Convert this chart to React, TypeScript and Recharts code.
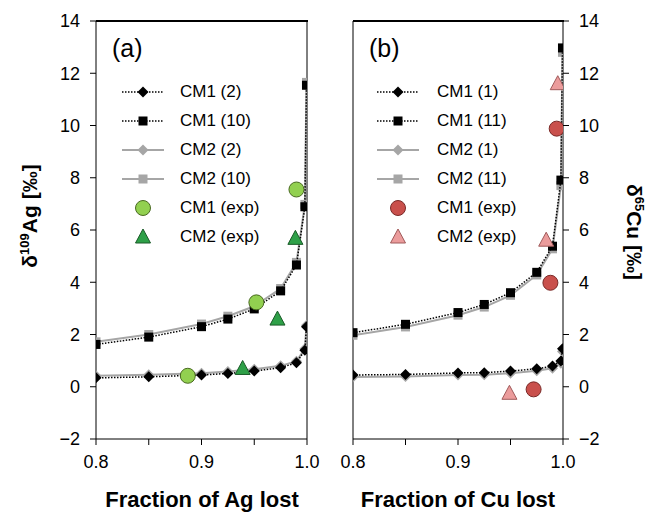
import React from "react";
import { ScatterChart, Scatter, XAxis, YAxis, ReferenceLine } from "recharts";

// fraction lost (shared x for the model curves)
const frac = [0.8, 0.85, 0.9, 0.925, 0.95, 0.975, 0.99, 0.998, 0.9995];

// panel (a) – Ag
const agCM1_2 = [0.34, 0.38, 0.45, 0.51, 0.6, 0.73, 0.92, 1.4, 2.3];
const agCM2_2 = [0.42, 0.46, 0.52, 0.58, 0.67, 0.8, 0.98, 1.45, 2.35];
const agCM1_10 = [1.62, 1.9, 2.3, 2.59, 2.98, 3.67, 4.66, 6.89, 11.54];
const agCM2_10 = [1.72, 2.0, 2.4, 2.7, 3.08, 3.76, 4.76, 6.98, 11.65];
const agExp1X = [0.887, 0.952, 0.99];
const agExp1Y = [0.42, 3.23, 7.55];
const agExp2X = [0.939, 0.972, 0.989];
const agExp2Y = [0.7, 2.59, 5.68];

// panel (b) – Cu
const cuCM1_1 = [0.45, 0.47, 0.53, 0.54, 0.6, 0.69, 0.79, 0.99, 1.45];
const cuCM2_1 = [0.37, 0.39, 0.45, 0.46, 0.52, 0.61, 0.71, 0.9, 1.35];
const cuCM1_11 = [2.07, 2.39, 2.84, 3.15, 3.6, 4.38, 5.38, 7.91, 12.97];
const cuCM2_11 = [1.97, 2.29, 2.74, 3.05, 3.5, 4.28, 5.28, 7.7, 12.8];
const cuExp1X = [0.972, 0.988, 0.994];
const cuExp1Y = [-0.1, 3.98, 9.88];
const cuExp2X = [0.949, 0.984, 0.995];
const cuExp2Y = [-0.25, 5.61, 11.6];

const xTicks = [0.8, 0.85, 0.9, 0.95, 1.0];
const yTicks = [-2, 0, 2, 4, 6, 8, 10, 12, 14];

const GRAY = "#a6a6a6";
const FONT = "'Liberation Sans', Arial, sans-serif";

const pts = (xs: number[], ys: number[]) => xs.map((x, i) => ({ x, y: ys[i] }));

type Kind = "diamond" | "square" | "circle" | "triangle";

const Marker = ({ cx, cy, kind, fill, stroke }: { cx: number; cy: number; kind: Kind; fill: string; stroke?: string }) => {
  if (kind === "diamond") {
    const r = 5.5;
    return <polygon points={`${cx},${cy - r} ${cx + r},${cy} ${cx},${cy + r} ${cx - r},${cy}`} fill={fill} />;
  }
  if (kind === "square") {
    const r = 4.5;
    return <rect x={cx - r} y={cy - r} width={r * 2} height={r * 2} fill={fill} />;
  }
  if (kind === "circle") {
    return <circle cx={cx} cy={cy} r={7.5} fill={fill} stroke={stroke} strokeWidth={1} />;
  }
  return (
    <polygon
      points={`${cx},${cy - 8} ${cx + 7.5},${cy + 6} ${cx - 7.5},${cy + 6}`}
      fill={fill}
      stroke={stroke}
      strokeWidth={1}
    />
  );
};

const shape = (kind: Kind, fill: string, stroke?: string) => (p: any) =>
  <Marker cx={p.cx} cy={p.cy} kind={kind} fill={fill} stroke={stroke} />;

const fmtY = (v: number) => (v < 0 ? `\u2212${Math.abs(v)}` : `${v}`);
const fmtX = (v: number) => (Math.abs(v * 10 - Math.round(v * 10)) < 1e-6 ? v.toFixed(1) : "");

const tickStyle = { fill: "#000", fontSize: 18, fontFamily: FONT };

type Series = {
  name: string;
  data: { x: number; y: number }[];
  kind: Kind;
  fill: string;
  stroke?: string;
  line?: "dot" | "gray";
};

const buildSeries = (
  m1a: number[], m2a: number[], m1b: number[], m2b: number[],
  e1: { x: number; y: number }[], e2: { x: number; y: number }[],
  names: string[], c1: [string, string], c2: [string, string]
): Series[] => [
  { name: names[2], data: pts(frac, m2a), kind: "diamond", fill: GRAY, line: "gray" },
  { name: names[3], data: pts(frac, m2b), kind: "square", fill: GRAY, line: "gray" },
  { name: names[0], data: pts(frac, m1a), kind: "diamond", fill: "#000", line: "dot" },
  { name: names[1], data: pts(frac, m1b), kind: "square", fill: "#000", line: "dot" },
  { name: names[4], data: e1, kind: "circle", fill: c1[0], stroke: c1[1] },
  { name: names[5], data: e2, kind: "triangle", fill: c2[0], stroke: c2[1] },
];

const seriesA = buildSeries(
  agCM1_2, agCM2_2, agCM1_10, agCM2_10,
  pts(agExp1X, agExp1Y), pts(agExp2X, agExp2Y),
  ["CM1 (2)", "CM1 (10)", "CM2 (2)", "CM2 (10)", "CM1 (exp)", "CM2 (exp)"],
  ["#92d050", "#4a6a22"], ["#2ea048", "#1a5a28"]
);

const seriesB = buildSeries(
  cuCM1_1, cuCM2_1, cuCM1_11, cuCM2_11,
  pts(cuExp1X, cuExp1Y), pts(cuExp2X, cuExp2Y),
  ["CM1 (1)", "CM1 (11)", "CM2 (1)", "CM2 (11)", "CM1 (exp)", "CM2 (exp)"],
  ["#c9504c", "#7a2a28"], ["#eb9c9c", "#a05a5a"]
);

const renderSeries = (list: Series[]) =>
  list.map((s) => (
    <Scatter
      key={s.name}
      name={s.name}
      data={s.data}
      isAnimationActive={false}
      shape={shape(s.kind, s.fill, s.stroke)}
      line={
        s.line === "dot"
          ? { stroke: "#000", strokeWidth: 1.5, strokeDasharray: "1.5 1.5" }
          : s.line === "gray"
          ? { stroke: GRAY, strokeWidth: 2 }
          : false
      }
    />
  ));

// legend order as shown in the figure
const legendOrder = [2, 3, 0, 1, 4, 5];

const Legend = ({ list, left, markerX }: { list: Series[]; left: number; markerX: number }) => (
  <>
    {legendOrder.map((idx, i) => {
      const s = list[idx];
      const cy = 92 + i * 29;
      return (
        <React.Fragment key={s.name}>
          <svg style={{ position: "absolute", left: markerX - 25, top: cy - 10 }} width={50} height={20}>
            {s.line === "dot" && (
              <line x1={4} x2={46} y1={10} y2={10} stroke="#000" strokeWidth={1.5} strokeDasharray="1.5 1.5" />
            )}
            {s.line === "gray" && <line x1={4} x2={46} y1={10} y2={10} stroke={GRAY} strokeWidth={2} />}
            <Marker cx={25} cy={10} kind={s.kind} fill={s.fill} stroke={s.stroke} />
          </svg>
          <div style={{ position: "absolute", left, top: cy - 11, fontSize: 17, lineHeight: "22px", fontFamily: FONT }}>
            {s.name}
          </div>
        </React.Fragment>
      );
    })}
  </>
);

const App = () => (
  <div style={{ position: "absolute", left: 0, top: 0, width: 655, height: 513, background: "#fff", fontFamily: FONT }}>
    <div style={{ position: "absolute", left: 0, top: 0 }}>
      <ScatterChart width={330} height={513} margin={{ top: 21, right: 23, bottom: 44, left: 36 }}>
        <XAxis
          type="number"
          dataKey="x"
          domain={[0.8, 1.0]}
          ticks={xTicks}
          tickFormatter={fmtX}
          tick={tickStyle}
          tickSize={6}
          tickMargin={10}
          height={30}
          stroke="#000"
          allowDataOverflow
        />
        <YAxis
          type="number"
          dataKey="y"
          domain={[-2, 14]}
          ticks={yTicks}
          tickFormatter={fmtY}
          tick={tickStyle}
          tickSize={6}
          tickMargin={10}
          width={60}
          stroke="#000"
          allowDataOverflow
        />
        <ReferenceLine x={1.0} stroke="#000" strokeWidth={1} />
        {renderSeries(seriesA)}
      </ScatterChart>
    </div>
    <div style={{ position: "absolute", left: 330, top: 0 }}>
      <ScatterChart width={325} height={513} margin={{ top: 21, right: 32, bottom: 44, left: 23 }}>
        <XAxis
          type="number"
          dataKey="x"
          domain={[0.8, 1.0]}
          ticks={xTicks}
          tickFormatter={fmtX}
          tick={tickStyle}
          tickSize={6}
          tickMargin={10}
          height={30}
          stroke="#000"
          allowDataOverflow
        />
        <YAxis
          type="number"
          dataKey="y"
          orientation="right"
          domain={[-2, 14]}
          ticks={yTicks}
          tickFormatter={fmtY}
          tick={tickStyle}
          tickSize={6}
          tickMargin={10}
          width={60}
          stroke="#000"
          allowDataOverflow
        />
        <ReferenceLine x={0.8} stroke="#000" strokeWidth={1} />
        {renderSeries(seriesB)}
      </ScatterChart>
    </div>

    {/* top frame lines of both panels */}
    <div style={{ position: "absolute", left: 96, top: 20, width: 212, height: 2, background: "#000", zIndex: 5 }} />
    <div style={{ position: "absolute", left: 353, top: 20, width: 211, height: 2, background: "#000", zIndex: 5 }} />

    <div style={{ position: "absolute", left: 112, top: 34, fontSize: 25 }}>(a)</div>
    <div style={{ position: "absolute", left: 369, top: 34, fontSize: 25 }}>(b)</div>

    <Legend list={seriesA} left={180} markerX={143} />
    <Legend list={seriesB} left={437} markerX={398} />

    <div style={{ position: "absolute", left: 202, top: 500, transform: "translate(-50%,-50%)", fontSize: 22, fontWeight: "bold", whiteSpace: "nowrap" }}>
      Fraction of Ag lost
    </div>
    <div style={{ position: "absolute", left: 458, top: 500, transform: "translate(-50%,-50%)", fontSize: 22, fontWeight: "bold", whiteSpace: "nowrap" }}>
      Fraction of Cu lost
    </div>
    <div
      style={{
        position: "absolute", left: 29, top: 216, transform: "translate(-50%,-50%) rotate(-90deg)",
        fontSize: 21, fontWeight: "bold", whiteSpace: "nowrap",
      }}
    >
      δ<sup style={{ fontSize: 13 }}>109</sup>Ag [‰]
    </div>
    <div
      style={{
        position: "absolute", left: 634, top: 232, transform: "translate(-50%,-50%) rotate(90deg)",
        fontSize: 21, fontWeight: "bold", whiteSpace: "nowrap",
      }}
    >
      δ<sup style={{ fontSize: 13 }}>65</sup>Cu [‰]
    </div>
  </div>
);

export default App;
